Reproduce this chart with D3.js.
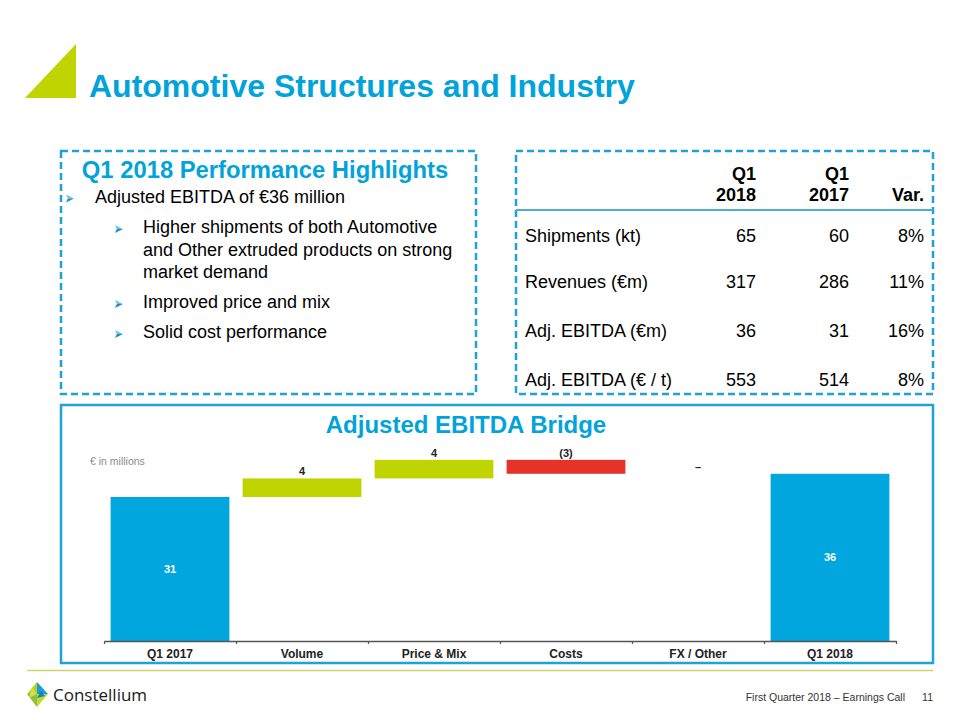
<!DOCTYPE html>
<html>
<head>
<meta charset="utf-8">
<script src="https://cdn.jsdelivr.net/npm/d3@7"></script>
<style>
  html, body { margin: 0; padding: 0; background: #fff; }
  svg { display: block; font-family: "Liberation Sans", Arial, sans-serif; }
</style>
</head>
<body>
<svg id="chart" width="960" height="720"></svg>
<script>
// ---------------- DATA ----------------
const pageTitle = "Automotive Structures and Industry";
const highlightsTitle = "Q1 2018 Performance Highlights";
const mainBullet = "Adjusted EBITDA of €36 million";
const subBullets = [
  ["Higher shipments of both Automotive", "and Other extruded products on strong", "market demand"],
  ["Improved price and mix"],
  ["Solid cost performance"]
];

const tableHeaders = [["Q1", "2018"], ["Q1", "2017"], ["", "Var."]];
const rowLabels = ["Shipments (kt)", "Revenues (€m)", "Adj. EBITDA (€m)", "Adj. EBITDA (€ / t)"];
const q1_2018 = ["65", "317", "36", "553"];
const q1_2017 = ["60", "286", "31", "514"];
const variance = ["8%", "11%", "16%", "8%"];

const chartTitle = "Adjusted EBITDA Bridge";
const unitNote = "€ in millions";
const categories = ["Q1 2017", "Volume", "Price & Mix", "Costs", "FX / Other", "Q1 2018"];
const values = [31, 4, 4, -3, 0, 36];
const valueLabels = ["31", "4", "4", "(3)", "–", "36"];
const barTypes = ["total", "delta", "delta", "delta", "delta", "total"];

const footerText = "First Quarter 2018 – Earnings Call";
const pageNumber = "11";
const brandName = "Constellium";

// ---------------- STYLE ----------------
const BLUE = "#00A3DA";
const BORDER = "#1FA2D6";
const BAR_BLUE = "#00A6DD";
const GREEN = "#BFD400";
const RED = "#E5332A";

const svg = d3.select("#chart");

// ---------------- HEADER ----------------
svg.append("path")
  .attr("d", d3.line()([[25, 98], [76, 44], [76, 98]]) + "Z")
  .attr("fill", GREEN);

svg.append("text")
  .attr("x", 89).attr("y", 97)
  .attr("font-size", 32).attr("font-weight", "bold")
  .attr("fill", BLUE)
  .text(pageTitle);

// ---------------- LEFT BOX ----------------
svg.append("rect")
  .attr("x", 61).attr("y", 151).attr("width", 415).attr("height", 243)
  .attr("fill", "none").attr("stroke", BORDER).attr("stroke-width", 2.5)
  .attr("stroke-dasharray", "7,4");

svg.append("text")
  .attr("x", 265).attr("y", 178).attr("text-anchor", "middle")
  .attr("font-size", 23.8).attr("font-weight", "bold").attr("fill", BLUE)
  .text(highlightsTitle);

// arrowhead bullet (like ➢)
function arrow(x, yc) {
  const gA = svg.append("g").attr("transform", `translate(${x},${yc})`);
  gA.append("path").attr("d", d3.line()([[0, -4], [8, 0], [1.8, 0]]) + "Z").attr("fill", "#6FC3E6");
  gA.append("path").attr("d", d3.line()([[1.8, 0], [8, 0], [0, 4]]) + "Z").attr("fill", "#1A8FC4");
}
arrow(66, 198.5);
svg.append("text").attr("x", 95).attr("y", 203)
  .attr("font-size", 18).attr("fill", "#000").text(mainBullet);

const subBaselines = [[233, 256, 278], [308], [338]];
subBullets.forEach((lines, i) => {
  arrow(115, subBaselines[i][0] - 4);
  lines.forEach((ln, j) => {
    svg.append("text").attr("x", 143).attr("y", subBaselines[i][j])
      .attr("font-size", 18).attr("fill", "#000").text(ln);
  });
});

// ---------------- RIGHT TABLE ----------------
svg.append("rect")
  .attr("x", 516).attr("y", 151).attr("width", 417).attr("height", 243)
  .attr("fill", "none").attr("stroke", BORDER).attr("stroke-width", 2.5)
  .attr("stroke-dasharray", "7,4");

svg.append("line")
  .attr("x1", 516).attr("x2", 933).attr("y1", 210).attr("y2", 210)
  .attr("stroke", "#4AAED3").attr("stroke-width", 2);

const colRight = [756, 849, 924];
tableHeaders.forEach((h, i) => {
  h.forEach((t, j) => {
    svg.append("text").attr("x", colRight[i]).attr("y", 180 + j * 21)
      .attr("text-anchor", "end").attr("font-size", 18).attr("font-weight", "bold")
      .text(t);
  });
});

const rowBase = [242, 288, 337, 386];
const cols = [q1_2018, q1_2017, variance];
rowLabels.forEach((lab, r) => {
  svg.append("text").attr("x", 525).attr("y", rowBase[r])
    .attr("font-size", 18).text(lab);
  cols.forEach((c, i) => {
    svg.append("text").attr("x", colRight[i]).attr("y", rowBase[r])
      .attr("text-anchor", "end").attr("font-size", 18).text(c[r]);
  });
});

// ---------------- CHART BOX ----------------
svg.append("rect")
  .attr("x", 61).attr("y", 405).attr("width", 872).attr("height", 258)
  .attr("fill", "none").attr("stroke", BORDER).attr("stroke-width", 2.5);

svg.append("text")
  .attr("x", 466).attr("y", 433).attr("text-anchor", "middle")
  .attr("font-size", 24).attr("font-weight", "bold").attr("fill", BLUE)
  .text(chartTitle);

svg.append("text")
  .attr("x", 90).attr("y", 465)
  .attr("font-size", 10.5).attr("fill", "#8c8c8c")
  .text(unitNote);

// Waterfall computation
let running = 0;
const bars = categories.map((c, i) => {
  let y0, y1;
  if (barTypes[i] === "total") { y0 = 0; y1 = values[i]; running = values[i]; }
  else { y0 = running; y1 = running + values[i]; running = y1; }
  return { cat: c, y0, y1, v: values[i], label: valueLabels[i], type: barTypes[i] };
});

const x = d3.scaleBand().domain(categories).range([104, 896])
  .paddingInner(0.1).paddingOuter(0.05);
const y = d3.scaleLinear().domain([0, 40]).range([641, 641 - 185.8]);

const g = svg.append("g");
g.selectAll("rect.bar").data(bars.filter(d => d.v !== 0)).join("rect")
  .attr("class", "bar")
  .attr("x", d => x(d.cat))
  .attr("width", x.bandwidth())
  .attr("y", d => y(Math.max(d.y0, d.y1)))
  .attr("height", d => Math.abs(y(d.y0) - y(d.y1)))
  .attr("fill", d => d.type === "total" ? BAR_BLUE : (d.v >= 0 ? GREEN : RED));

// labels
g.selectAll("text.inside").data(bars.filter(d => d.type === "total")).join("text")
  .attr("class", "inside")
  .attr("x", d => x(d.cat) + x.bandwidth() / 2)
  .attr("y", d => (y(d.y0) + y(d.y1)) / 2 + 4)
  .attr("text-anchor", "middle").attr("font-size", 11).attr("font-weight", "bold")
  .attr("fill", "#fff").text(d => d.label);

g.selectAll("text.above").data(bars.filter(d => d.type === "delta")).join("text")
  .attr("class", "above")
  .attr("x", d => x(d.cat) + x.bandwidth() / 2)
  .attr("y", d => y(Math.max(d.y0, d.y1)) - 3)
  .attr("text-anchor", "middle").attr("font-size", 11).attr("font-weight", "bold")
  .attr("fill", "#222").text(d => d.label);

// axis
const bx = d3.scaleLinear().domain([0, categories.length]).range([104, 896]);
const axis = svg.append("g").attr("transform", "translate(0,641)")
  .call(d3.axisBottom(bx).tickValues(d3.range(0, categories.length + 1))
    .tickSize(3).tickSizeOuter(0).tickFormat(""));
axis.select(".domain").attr("stroke", "#555").attr("stroke-width", 1.5);
axis.selectAll(".tick line").attr("stroke", "#555").attr("stroke-width", 1.2);

svg.append("g").selectAll("text").data(categories).join("text")
  .attr("x", d => x(d) + x.bandwidth() / 2)
  .attr("y", 658)
  .attr("text-anchor", "middle").attr("font-size", 12).attr("font-weight", "bold")
  .attr("fill", "#222").text(d => d);

// ---------------- FOOTER ----------------
svg.append("line")
  .attr("x1", 27).attr("x2", 933).attr("y1", 670.5).attr("y2", 670.5)
  .attr("stroke", "#CAD66A").attr("stroke-width", 1.5);

// logo icon
const logo = svg.append("g").attr("transform", "translate(27,682)");
const logoShapes = [
  { p: [[10, 0], [10, 12], [0, 12]], c: "#B9CF1E" },
  { p: [[10, 0], [21, 12], [10, 12]], c: "#1E9BD7" },
  { p: [[0, 12], [10, 12], [10, 25]], c: "#8DBE3C" },
  { p: [[10, 12], [21, 12], [10, 25]], c: "#C6D82A" },
  { p: [[5, 6], [10, 12], [2, 16]], c: "#D4E04A" },
  { p: [[14, 9], [18, 14], [10, 16]], c: "#0D84C4" }
];
logo.selectAll("path").data(logoShapes).join("path")
  .attr("d", d => d3.line()(d.p) + "Z").attr("fill", d => d.c);

svg.append("text").attr("x", 53).attr("y", 701)
  .attr("font-family", "Open Sans, sans-serif").attr("font-size", 17)
  .attr("fill", "#1a1a1a").text(brandName);

svg.append("text").attr("x", 905).attr("y", 701).attr("text-anchor", "end")
  .attr("font-size", 10.5).attr("fill", "#333").text(footerText);
svg.append("text").attr("x", 933).attr("y", 701).attr("text-anchor", "end")
  .attr("font-size", 10.5).attr("fill", "#333").text(pageNumber);
</script>
</body>
</html>
